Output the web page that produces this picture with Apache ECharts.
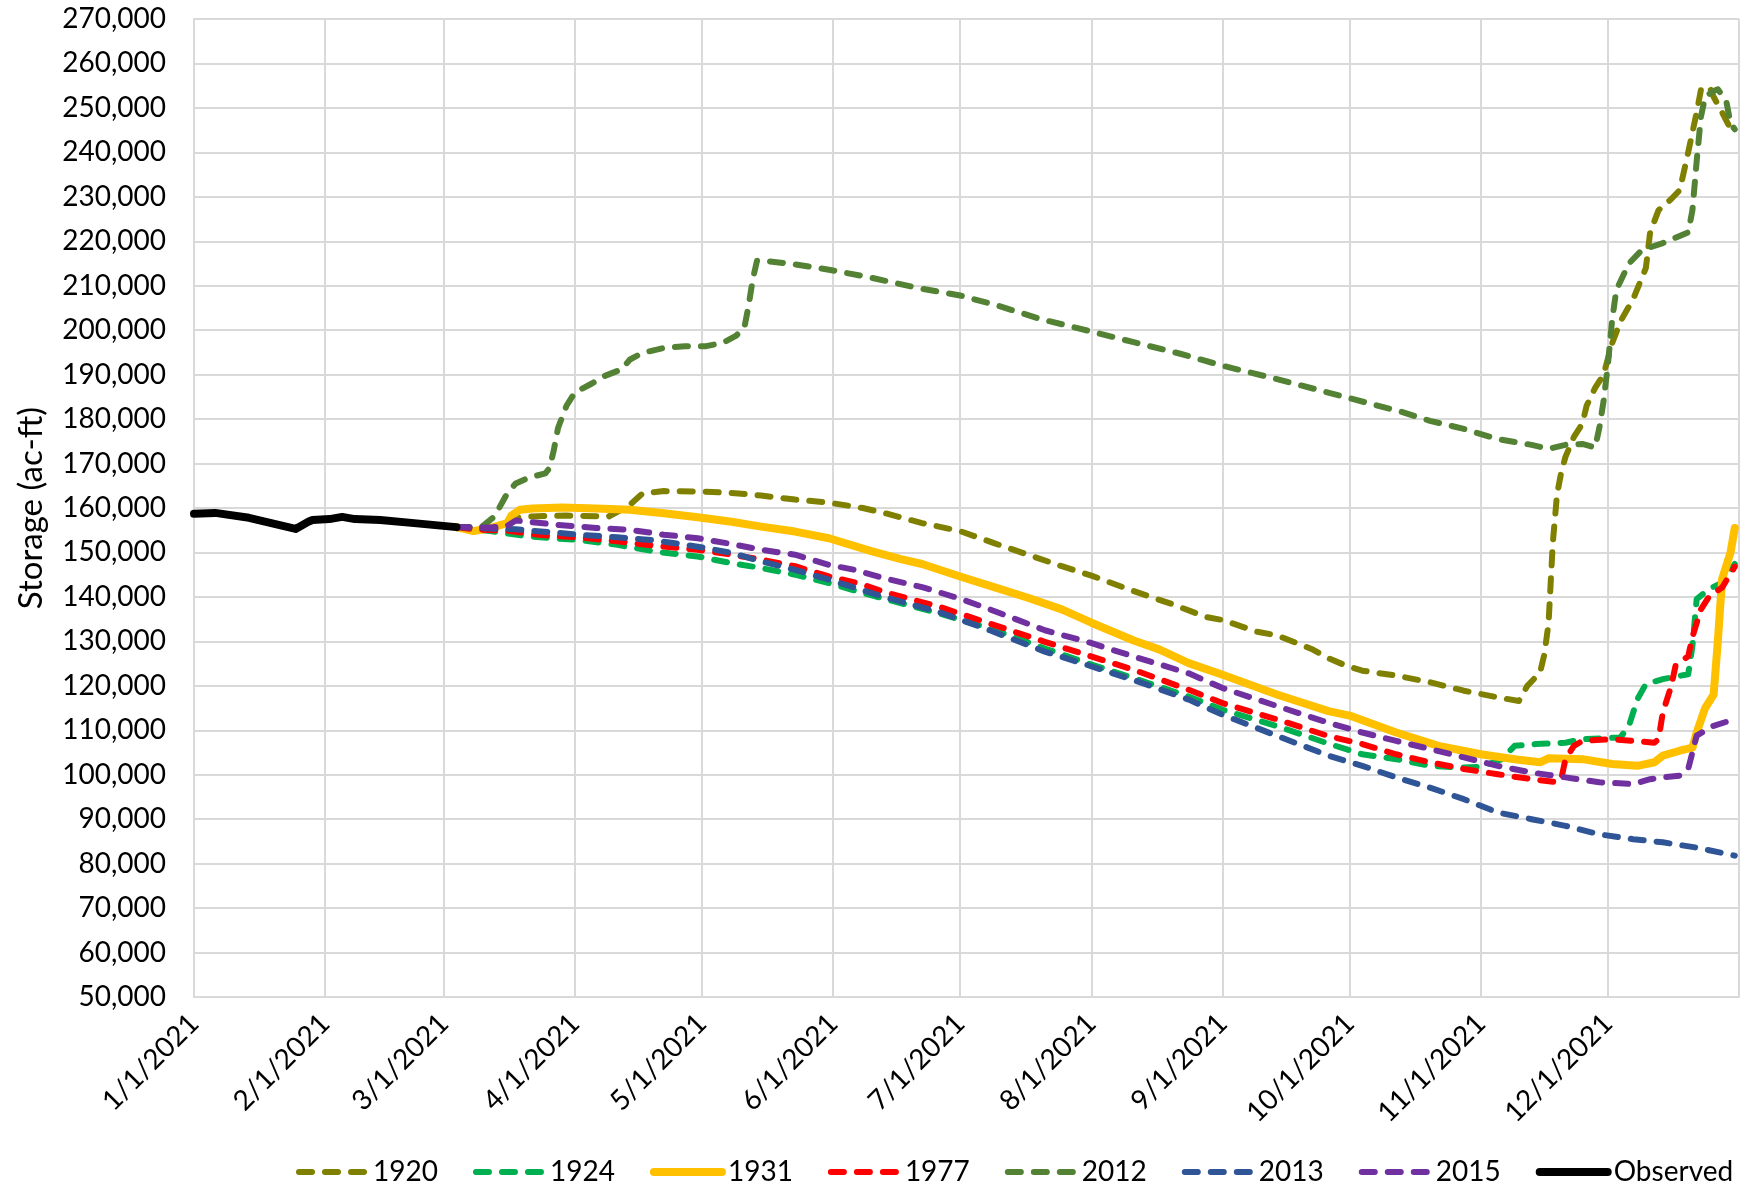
<!DOCTYPE html>
<html><head><meta charset="utf-8">
<script src="https://cdn.jsdelivr.net/npm/echarts@6/dist/echarts.min.js"></script>
<style>html,body{margin:0;padding:0;background:#fff}#c{width:1748px;height:1191px}</style>
</head><body><div id="c"></div>
<script>
// ---- data (storage, ac-ft) ----
const observed = [['2021-01-01',158700],['2021-01-06',158900],['2021-01-14',157800],['2021-01-21',156200],['2021-01-25',155300],['2021-01-28',156900],['2021-01-29',157300],['2021-02-02',157500],['2021-02-05',158000],['2021-02-08',157500],['2021-02-14',157300],['2021-02-22',156600],['2021-03-04',155700]];

const s1920 = [['2021-03-04',155700],['2021-03-14',155400],['2021-03-18',157800],['2021-03-21',158100],['2021-03-30',158300],['2021-04-09',158100],['2021-04-14',160700],['2021-04-17',163300],['2021-04-22',163800],['2021-05-01',163700],['2021-05-08',163400],['2021-05-15',162800],['2021-05-23',161900],['2021-05-31',161200],['2021-06-08',160000],['2021-06-13',158900],['2021-06-22',156600],['2021-07-01',154800],['2021-07-09',152100],['2021-07-17',149500],['2021-07-25',146900],['2021-08-01',144800],['2021-08-11',141300],['2021-08-20',138400],['2021-08-28',135500],['2021-09-01',134800],['2021-09-09',132200],['2021-09-14',131300],['2021-09-22',128300],['2021-09-26',126200],['2021-09-30',124600],['2021-10-04',123400],['2021-10-12',122300],['2021-10-20',120800],['2021-10-28',118900],['2021-11-05',117400],['2021-11-10',116600],['2021-11-12',120000],['2021-11-15',123000],['2021-11-16',127000],['2021-11-17',134000],['2021-11-18',152000],['2021-11-19',163000],['2021-11-20',168000],['2021-11-21',171500],['2021-11-23',176000],['2021-11-25',179000],['2021-11-26',183000],['2021-11-28',187000],['2021-11-30',190000],['2021-12-02',197000],['2021-12-04',202000],['2021-12-07',207000],['2021-12-10',214000],['2021-12-11',222000],['2021-12-13',227000],['2021-12-16',229500],['2021-12-18',231500],['2021-12-20',240000],['2021-12-22',249000],['2021-12-23',254000],['2021-12-25',254800],['2021-12-26',252500],['2021-12-28',249000],['2021-12-30',245300],['2021-12-31',245200]];

const s1924 = [['2021-03-04',155700],['2021-03-12',154800],['2021-03-21',153600],['2021-04-02',152800],['2021-04-11',151700],['2021-04-20',150200],['2021-04-30',149100],['2021-05-08',147600],['2021-05-15',146500],['2021-05-23',145000],['2021-05-31',143100],['2021-06-08',140900],['2021-06-13',139600],['2021-06-26',136300],['2021-07-08',132900],['2021-07-21',128400],['2021-07-31',125100],['2021-08-11',121700],['2021-08-24',117600],['2021-09-01',114600],['2021-09-14',110900],['2021-09-26',107000],['2021-10-04',104600],['2021-10-12',103500],['2021-10-20',102000],['2021-10-28',101600],['2021-11-01',101800],['2021-11-06',103500],['2021-11-09',106500],['2021-11-14',106900],['2021-11-21',107200],['2021-11-25',108000],['2021-12-04',108400],['2021-12-06',111000],['2021-12-08',117000],['2021-12-10',120400],['2021-12-14',121500],['2021-12-20',122600],['2021-12-21',129000],['2021-12-22',139500],['2021-12-25',141800],['2021-12-28',143200],['2021-12-31',147400]];

const s1931 = [['2021-03-04',155700],['2021-03-08',154800],['2021-03-12',155500],['2021-03-16',156600],['2021-03-17',158300],['2021-03-19',159600],['2021-03-22',159900],['2021-03-29',160100],['2021-04-06',159900],['2021-04-14',159600],['2021-04-22',158800],['2021-04-30',157900],['2021-05-08',156900],['2021-05-15',155800],['2021-05-23',154700],['2021-05-31',153200],['2021-06-10',150300],['2021-06-17',148500],['2021-06-22',147400],['2021-07-01',144600],['2021-07-09',142200],['2021-07-17',139800],['2021-07-25',137200],['2021-08-01',134200],['2021-08-11',130200],['2021-08-17',128200],['2021-08-24',125100],['2021-09-01',122500],['2021-09-14',118000],['2021-09-26',114300],['2021-10-01',113300],['2021-10-12',109500],['2021-10-22',106500],['2021-11-01',104600],['2021-11-09',103500],['2021-11-15',102800],['2021-11-17',103700],['2021-11-25',103500],['2021-12-02',102400],['2021-12-08',102000],['2021-12-12',102800],['2021-12-14',104300],['2021-12-18',105400],['2021-12-21',106100],['2021-12-22',109500],['2021-12-24',115000],['2021-12-26',118000],['2021-12-27',130000],['2021-12-28',144000],['2021-12-29',147000],['2021-12-30',150000],['2021-12-31',155500]];

const s1977 = [['2021-03-04',155700],['2021-03-08',155200],['2021-03-16',154900],['2021-03-24',153900],['2021-04-02',153400],['2021-04-11',152500],['2021-04-20',151500],['2021-04-30',150600],['2021-05-08',149500],['2021-05-15',148400],['2021-05-23',146900],['2021-05-31',144600],['2021-06-08',142800],['2021-06-13',141100],['2021-06-26',137800],['2021-07-08',134000],['2021-07-21',129900],['2021-07-31',126900],['2021-08-11',123600],['2021-08-24',119100],['2021-09-01',116100],['2021-09-14',112400],['2021-09-26',108700],['2021-10-04',106900],['2021-10-12',104600],['2021-10-20',102800],['2021-10-28',101300],['2021-11-05',100100],['2021-11-13',99000],['2021-11-19',98300],['2021-11-20',99000],['2021-11-21',103500],['2021-11-23',106500],['2021-11-25',107600],['2021-12-02',108000],['2021-12-07',107600],['2021-12-12',107200],['2021-12-13',108000],['2021-12-14',114000],['2021-12-16',120000],['2021-12-17',124500],['2021-12-20',126700],['2021-12-21',131000],['2021-12-23',137200],['2021-12-25',140200],['2021-12-28',142100],['2021-12-31',146800]];

const s2012 = [['2021-03-04',155700],['2021-03-10',155800],['2021-03-13',158100],['2021-03-16',163300],['2021-03-18',165500],['2021-03-21',166800],['2021-03-25',167800],['2021-03-26',169000],['2021-03-27',173000],['2021-03-28',178000],['2021-03-30',183000],['2021-04-01',186000],['2021-04-05',188000],['2021-04-08',189700],['2021-04-12',191200],['2021-04-14',193400],['2021-04-17',194900],['2021-04-22',196000],['2021-04-27',196400],['2021-05-02',196400],['2021-05-06',197200],['2021-05-09',198700],['2021-05-11',200500],['2021-05-12',205400],['2021-05-13',211400],['2021-05-14',215600],['2021-05-15',215700],['2021-05-23',214800],['2021-05-31',213600],['2021-06-10',211800],['2021-06-21',209500],['2021-07-01',207800],['2021-07-10',205500],['2021-07-20',202500],['2021-08-01',199700],['2021-08-11',197300],['2021-08-22',194700],['2021-09-01',192000],['2021-09-13',189200],['2021-09-23',186700],['2021-10-01',184700],['2021-10-13',181700],['2021-10-20',179600],['2021-10-28',177800],['2021-11-05',175500],['2021-11-13',174200],['2021-11-17',173300],['2021-11-21',174200],['2021-11-25',174400],['2021-11-28',173600],['2021-11-29',178000],['2021-11-30',184000],['2021-12-01',192000],['2021-12-02',202000],['2021-12-03',209000],['2021-12-06',215000],['2021-12-09',218000],['2021-12-14',219600],['2021-12-20',222000],['2021-12-21',227000],['2021-12-22',238000],['2021-12-23',248000],['2021-12-24',252500],['2021-12-26',253800],['2021-12-27',254200],['2021-12-29',251500],['2021-12-30',246500],['2021-12-31',245200]];

const s2013 = [['2021-03-04',155700],['2021-03-12',155400],['2021-03-18',155200],['2021-04-02',154000],['2021-04-11',153400],['2021-04-20',152700],['2021-04-30',151300],['2021-05-08',149900],['2021-05-15',148000],['2021-05-23',146100],['2021-05-31',143900],['2021-06-13',140000],['2021-06-26',136600],['2021-07-08',132500],['2021-07-21',127700],['2021-07-31',124700],['2021-08-11',121300],['2021-08-24',116900],['2021-09-01',113500],['2021-09-14',108700],['2021-09-26',104300],['2021-10-04',102000],['2021-10-12',99400],['2021-10-20',97100],['2021-10-28',94500],['2021-11-05',91500],['2021-11-13',90000],['2021-11-21',88500],['2021-11-29',86600],['2021-12-07',85500],['2021-12-14',84800],['2021-12-22',83600],['2021-12-31',81800]];

const s2015 = [['2021-03-04',155700],['2021-03-12',155600],['2021-03-16',156000],['2021-03-18',157200],['2021-03-28',156200],['2021-04-06',155500],['2021-04-14',155100],['2021-04-22',154000],['2021-04-30',153200],['2021-05-08',151900],['2021-05-15',150600],['2021-05-23',149500],['2021-05-31',147200],['2021-06-06',146100],['2021-06-13',144200],['2021-06-22',142200],['2021-07-01',139600],['2021-07-08',137200],['2021-07-21',132500],['2021-07-31',129900],['2021-08-11',126600],['2021-08-24',122800],['2021-09-01',119500],['2021-09-14',115400],['2021-09-26',111700],['2021-10-04',109500],['2021-10-12',107600],['2021-10-20',105800],['2021-10-28',103900],['2021-11-05',102000],['2021-11-13',100500],['2021-11-21',99400],['2021-11-29',98300],['2021-12-07',97900],['2021-12-11',99000],['2021-12-14',99400],['2021-12-18',99800],['2021-12-20',101300],['2021-12-22',108800],['2021-12-26',111000],['2021-12-31',112500]];

const seriesNames = ['1920','1924','1931','1977','2012','2013','2015','Observed'];
const seriesData = [s1920, s1924, s1931, s1977, s2012, s2013, s2015, observed];
const yAxisTitle = 'Storage (ac-ft)';

// ---- styling ----
const FONT = 'Lato, "Noto Sans", sans-serif';
const styles = {
  '1920':     {color:'#808000', width:6, dashed:true},
  '1924':     {color:'#00B050', width:6, dashed:true},
  '1931':     {color:'#FFC000', width:8, dashed:false},
  '1977':     {color:'#FF0000', width:6, dashed:true},
  '2012':     {color:'#548235', width:6, dashed:true},
  '2013':     {color:'#2F5597', width:6, dashed:true},
  '2015':     {color:'#7030A0', width:6, dashed:true},
  'Observed': {color:'#000000', width:8, dashed:false}
};

const chart = echarts.init(document.getElementById('c'), null, {renderer:'canvas'});
const series = seriesNames.map((n, i) => {
  const st = styles[n];
  return {
    name: n, type: 'line', data: seriesData[i], symbol: 'none', showSymbol: false,
    animation: false, z: 2 + i,
    itemStyle: {color: st.color},
    lineStyle: {color: st.color, width: st.width, type: st.dashed ? [13, 13] : 'solid', cap: 'round', join: 'round'}
  };
});

chart.setOption({
  animation: false,
  backgroundColor: '#ffffff',
  grid: {left: 194, right: 9, top: 19, bottom: 194, containLabel: false},
  xAxis: {
    type: 'time',
    min: '2021-01-01', max: '2022-01-01',
    minInterval: 28 * 86400000, maxInterval: 31 * 86400000,
    axisLine: {show: true, lineStyle: {color: '#d9d9d9', width: 2}},
    axisTick: {show: false},
    splitLine: {show: true, lineStyle: {color: '#d9d9d9', width: 2}},
    axisLabel: {
      rotate: 45, margin: 22, fontSize: 28, fontFamily: FONT, color: '#000',
      showMinLabel: true, showMaxLabel: false, hideOverlap: false,
      formatter: function (v) {
        const d = new Date(v);
        if (d.getFullYear() > 2021) return '';
        return (d.getMonth() + 1) + '/' + d.getDate() + '/' + d.getFullYear();
      }
    }
  },
  yAxis: {
    type: 'value', min: 50000, max: 270000, interval: 10000,
    name: yAxisTitle, nameLocation: 'middle', nameGap: 146, nameRotate: 90,
    nameTextStyle: {fontSize: 33, fontFamily: FONT, color: '#000'},
    axisLine: {show: true, lineStyle: {color: '#d9d9d9', width: 2}},
    axisTick: {show: false},
    splitLine: {show: true, lineStyle: {color: '#d9d9d9', width: 2}},
    axisLabel: {
      margin: 28, fontSize: 28, fontFamily: FONT, color: '#000',
      formatter: v => v.toLocaleString('en-US')
    }
  },
  legend: {
    type: 'plain', data: seriesNames, left: 291, right: 0, top: 1153, orient: 'horizontal',
    itemWidth: 68, itemHeight: 14, itemGap: 35,
    itemStyle: {color: 'rgba(0,0,0,0)', borderColor: 'rgba(0,0,0,0)', borderWidth: 0, opacity: 0},
    lineStyle: {width: 'inherit', type: 'inherit', cap: 'round'},
    textStyle: {fontSize: 28, fontFamily: FONT, color: '#000', padding: [0, 0, 0, 1]}
  },
  series: series
});
</script></body></html>
